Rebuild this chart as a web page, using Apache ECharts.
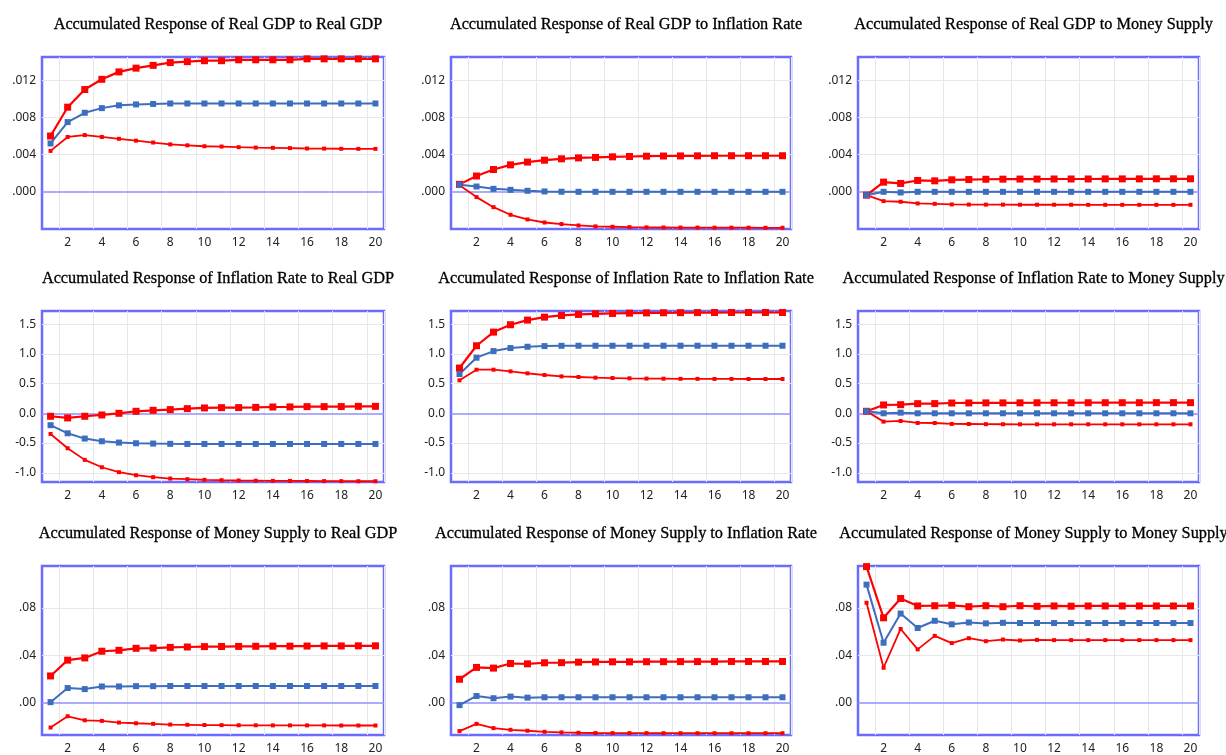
<!DOCTYPE html>
<html>
<head>
<meta charset="utf-8">
<script src="https://cdn.jsdelivr.net/npm/echarts@6/dist/echarts.min.js"></script>
<style>
  html, body { margin: 0; padding: 0; background: #fff; }
  #chart { width: 1226px; height: 755px; }
</style>
</head>
<body>
<div id="chart"></div>
<script>
// periods 1..20
const periods = ['1','2','3','4','5','6','7','8','9','10','11','12','13','14','15','16','17','18','19','20']

// panel titles, row by row
const titles = [
  'Accumulated Response of Real GDP to Real GDP',
  'Accumulated Response of Real GDP to Inflation Rate',
  'Accumulated Response of Real GDP to Money Supply',
  'Accumulated Response of Inflation Rate to Real GDP',
  'Accumulated Response of Inflation Rate to Inflation Rate',
  'Accumulated Response of Inflation Rate to Money Supply',
  'Accumulated Response of Money Supply to Real GDP',
  'Accumulated Response of Money Supply to Inflation Rate',
  'Accumulated Response of Money Supply to Money Supply'
]

// y tick labels per row
const gdpTicks = [0, 0.004, 0.008, 0.012]
const infTicks = [-1.0, -0.5, 0, 0.5, 1.0, 1.5]
const moneyTicks = [0, 0.04, 0.08]

// Real GDP row
const gdpGdpUpper = [0.0060, 0.0091, 0.0110, 0.0121, 0.0129, 0.0133, 0.0136, 0.0139, 0.0140, 0.0141, 0.0141, 0.0142, 0.0142, 0.0142, 0.0142, 0.0143, 0.0143, 0.0143, 0.0143, 0.0143]
const gdpGdpMid = [0.0052, 0.0075, 0.0085, 0.0090, 0.0093, 0.0094, 0.00945, 0.0095, 0.0095, 0.0095, 0.0095, 0.0095, 0.0095, 0.0095, 0.0095, 0.0095, 0.0095, 0.0095, 0.0095, 0.0095]
const gdpGdpLower = [0.0044, 0.0059, 0.0061, 0.0059, 0.0057, 0.0055, 0.0053, 0.0051, 0.0050, 0.0049, 0.00487, 0.0048, 0.00476, 0.00473, 0.0047, 0.00466, 0.00465, 0.00463, 0.00462, 0.00462]

const gdpInfUpper = [0.0008, 0.0017, 0.0024, 0.0029, 0.0032, 0.0034, 0.00355, 0.00365, 0.0037, 0.00376, 0.0038, 0.00383, 0.00385, 0.00386, 0.00387, 0.00388, 0.00388, 0.00388, 0.00388, 0.00388]
const gdpInfMid = [0.00075, 0.00057, 0.00032, 0.00021, 0.00011, 0.00004, 0.00001, 0, 0, 0, 0, 0, 0, 0, 0, 0, 0, 0, 0, 0]
const gdpInfLower = [0.0007, -0.00057, -0.00165, -0.00247, -0.00297, -0.0033, -0.00347, -0.00362, -0.00372, -0.00376, -0.0038, -0.00383, -0.00384, -0.00385, -0.00385, -0.00386, -0.00386, -0.00386, -0.00387, -0.00387]

const gdpMoneyUpper = [-0.00036, 0.00104, 0.0009, 0.00122, 0.00118, 0.00129, 0.00132, 0.00135, 0.00136, 0.00137, 0.00137, 0.00138, 0.00138, 0.00138, 0.00139, 0.00139, 0.00139, 0.0014, 0.0014, 0.0014]
const gdpMoneyMid = [-0.00036, 0, -0.00007, 0, 0, 0, 0, 0, 0, 0, 0, 0, 0, 0, 0, 0, 0, 0, 0, 0]
const gdpMoneyLower = [-0.00036, -0.0010, -0.00107, -0.00125, -0.00129, -0.00136, -0.00137, -0.00138, -0.00138, -0.00139, -0.00139, -0.00139, -0.00139, -0.0014, -0.0014, -0.0014, -0.0014, -0.0014, -0.0014, -0.0014]

// Inflation Rate row
const infGdpUpper = [-0.05, -0.078, -0.05, -0.028, 0.0, 0.034, 0.05, 0.062, 0.078, 0.09, 0.095, 0.096, 0.1, 0.106, 0.107, 0.112, 0.112, 0.113, 0.117, 0.117]
const infGdpMid = [-0.2, -0.336, -0.425, -0.47, -0.492, -0.504, -0.509, -0.513, -0.515, -0.515, -0.515, -0.515, -0.515, -0.515, -0.515, -0.515, -0.515, -0.515, -0.515, -0.515]
const infGdpLower = [-0.347, -0.588, -0.783, -0.907, -0.99, -1.041, -1.074, -1.097, -1.108, -1.119, -1.125, -1.13, -1.133, -1.136, -1.137, -1.138, -1.14, -1.141, -1.142, -1.142]

const infInfUpper = [0.761, 1.136, 1.365, 1.489, 1.567, 1.617, 1.645, 1.662, 1.673, 1.679, 1.684, 1.688, 1.69, 1.692, 1.693, 1.694, 1.695, 1.695, 1.695, 1.695]
const infInfMid = [0.66, 0.935, 1.046, 1.097, 1.119, 1.13, 1.135, 1.136, 1.136, 1.136, 1.136, 1.136, 1.136, 1.136, 1.136, 1.136, 1.136, 1.136, 1.136, 1.136]
const infInfLower = [0.554, 0.733, 0.733, 0.705, 0.672, 0.644, 0.621, 0.61, 0.599, 0.593, 0.588, 0.584, 0.582, 0.58, 0.579, 0.578, 0.578, 0.577, 0.577, 0.577]

const infMoneyUpper = [0.034, 0.14, 0.145, 0.162, 0.163, 0.173, 0.174, 0.175, 0.175, 0.176, 0.177, 0.177, 0.177, 0.178, 0.178, 0.178, 0.178, 0.179, 0.179, 0.179]
const infMoneyMid = [0.034, 0.0, 0.011, 0, 0, 0, 0, 0, 0, 0, 0, 0, 0, 0, 0, 0, 0, 0, 0, 0]
const infMoneyLower = [0.034, -0.14, -0.129, -0.162, -0.163, -0.179, -0.18, -0.183, -0.184, -0.185, -0.185, -0.185, -0.185, -0.185, -0.185, -0.185, -0.185, -0.185, -0.185, -0.185]

// Money Supply row
const moneyGdpUpper = [0.0227, 0.036, 0.0379, 0.0435, 0.0443, 0.046, 0.0462, 0.0468, 0.0471, 0.0474, 0.0475, 0.0476, 0.0477, 0.0478, 0.0478, 0.0479, 0.048, 0.048, 0.0481, 0.0481]
const moneyGdpMid = [0.0006, 0.0125, 0.0116, 0.0138, 0.0138, 0.0141, 0.0141, 0.0142, 0.0142, 0.0142, 0.0142, 0.0142, 0.0142, 0.0142, 0.0142, 0.0142, 0.0142, 0.0142, 0.0142, 0.0142]
const moneyGdpLower = [-0.0208, -0.0113, -0.0147, -0.0152, -0.0166, -0.0172, -0.0177, -0.0183, -0.0185, -0.0187, -0.0188, -0.0189, -0.0189, -0.019, -0.019, -0.019, -0.019, -0.0191, -0.0191, -0.0191]

const moneyInfUpper = [0.0199, 0.0299, 0.0293, 0.0332, 0.0329, 0.0338, 0.0339, 0.0343, 0.0345, 0.0346, 0.0346, 0.0347, 0.0347, 0.0348, 0.0348, 0.0348, 0.0349, 0.0349, 0.0349, 0.0349]
const moneyInfMid = [-0.0019, 0.0058, 0.0039, 0.0053, 0.0044, 0.0047, 0.0047, 0.0047, 0.0047, 0.0047, 0.0047, 0.0047, 0.0047, 0.0047, 0.0047, 0.0047, 0.0047, 0.0047, 0.0047, 0.0047]
const moneyInfLower = [-0.0238, -0.0177, -0.0213, -0.0227, -0.0235, -0.0244, -0.0249, -0.0252, -0.0254, -0.0255, -0.0255, -0.0255, -0.0256, -0.0256, -0.0256, -0.0256, -0.0256, -0.0256, -0.0256, -0.0256]

const moneyMoneyUpper = [0.1149, 0.0717, 0.088, 0.0817, 0.0819, 0.0822, 0.0811, 0.0819, 0.0811, 0.0819, 0.0814, 0.0817, 0.0815, 0.0817, 0.0817, 0.0817, 0.0817, 0.0817, 0.0817, 0.0817]
const moneyMoneyMid = [0.0997, 0.0507, 0.0753, 0.0631, 0.0692, 0.0662, 0.0678, 0.067, 0.0675, 0.0673, 0.0673, 0.0673, 0.0673, 0.0673, 0.0673, 0.0673, 0.0673, 0.0673, 0.0673, 0.0673]
const moneyMoneyLower = [0.0844, 0.0296, 0.0623, 0.0451, 0.0565, 0.0504, 0.0545, 0.052, 0.0534, 0.0526, 0.0531, 0.0529, 0.0529, 0.0529, 0.0529, 0.0529, 0.0529, 0.0529, 0.0529, 0.0529]

const panels = [
  [gdpGdpUpper, gdpGdpMid, gdpGdpLower],
  [gdpInfUpper, gdpInfMid, gdpInfLower],
  [gdpMoneyUpper, gdpMoneyMid, gdpMoneyLower],
  [infGdpUpper, infGdpMid, infGdpLower],
  [infInfUpper, infInfMid, infInfLower],
  [infMoneyUpper, infMoneyMid, infMoneyLower],
  [moneyGdpUpper, moneyGdpMid, moneyGdpLower],
  [moneyInfUpper, moneyInfMid, moneyInfLower],
  [moneyMoneyUpper, moneyMoneyMid, moneyMoneyLower]
]

// layout
const colLeft = [42, 451, 858]
const colWidth = [342, 340, 341]
const rowTop = [57, 311, 566]
const rowHeight = [172, 171, 172]

const rowAxis = [
  { min: -0.004, max: 0.0145, ticks: gdpTicks, fmt: v => v.toFixed(3).replace(/^0/, '') },
  { min: -1.155, max: 1.72, ticks: infTicks, fmt: v => v.toFixed(1) },
  { min: -0.0271, max: 0.1154, ticks: moneyTicks, fmt: v => v.toFixed(2).replace(/^0/, '') }
]

const RED = '#ff0000'
const BLUE = '#3d6dbd'
const GRID_LINE = '#e8e8e8'
const ZERO_LINE = '#8f8fff'

const everyOther = i => i % 2 === 1

const chart = echarts.init(document.getElementById('chart'), null, { renderer: 'canvas' })

const title = []
const grid = []
const xAxis = []
const yAxis = []
const series = []

panels.forEach((lines, k) => {
  const r = Math.floor(k / 3)
  const c = k % 3
  const ax = rowAxis[r]

  title.push({
    text: titles[k],
    left: colLeft[c] + colWidth[c] / 2,
    top: rowTop[r] - 45,
    textAlign: 'center',
    textStyle: {
      fontFamily: 'Liberation Serif', fontSize: 16.3, fontWeight: 'normal', color: '#000',
      textBorderColor: '#000', textBorderWidth: 0.3
    }
  })

  grid.push({
    left: colLeft[c], top: rowTop[r], width: colWidth[c], height: rowHeight[r],
    show: true, borderColor: '#6b6bff', borderWidth: 2.5, backgroundColor: 'transparent',
    containLabel: false
  })

  xAxis.push({
    type: 'category', gridIndex: k, data: periods, boundaryGap: true,
    axisLine: { show: false },
    axisTick: { show: false, interval: everyOther },
    axisLabel: { interval: everyOther, margin: 8, fontFamily: 'Noto Sans', fontSize: 12, color: '#222' },
    splitLine: { show: true, interval: everyOther, lineStyle: { color: GRID_LINE, width: 1 } }
  })

  // grey split lines everywhere except zero, which gets its own blue line
  yAxis.push({
    type: 'value', gridIndex: k, min: ax.min, max: ax.max, scale: false,
    axisLine: { show: false },
    axisTick: { show: false, customValues: ax.ticks.filter(v => v !== 0) },
    axisLabel: { customValues: ax.ticks, formatter: ax.fmt, margin: 6, fontFamily: 'Noto Sans', fontSize: 12, color: '#222' },
    splitLine: { show: true, lineStyle: { color: GRID_LINE, width: 1 } }
  })

  const [upper, mid, lower] = lines
  series.push({
    type: 'line', xAxisIndex: k, yAxisIndex: k, data: lower,
    symbol: 'rect', symbolSize: 4, showSymbol: true,
    lineStyle: { color: RED, width: 1.8 }, itemStyle: { color: RED },
    markLine: {
      z: 1, silent: true, symbol: 'none', label: { show: false },
      lineStyle: { color: ZERO_LINE, width: 1.5, type: 'solid', opacity: 1 },
      data: [{ yAxis: 0 }]
    },
    animation: false
  })
  series.push({
    type: 'line', xAxisIndex: k, yAxisIndex: k, data: upper,
    symbol: 'rect', symbolSize: 7, showSymbol: true,
    lineStyle: { color: RED, width: 2.2 }, itemStyle: { color: RED },
    animation: false
  })
  series.push({
    type: 'line', xAxisIndex: k, yAxisIndex: k, data: mid,
    symbol: 'rect', symbolSize: 6, showSymbol: true,
    lineStyle: { color: BLUE, width: 2 }, itemStyle: { color: BLUE },
    animation: false
  })
})

chart.setOption({
  backgroundColor: '#fff',
  animation: false,
  title,
  grid,
  xAxis,
  yAxis,
  series
})
</script>
</body>
</html>
